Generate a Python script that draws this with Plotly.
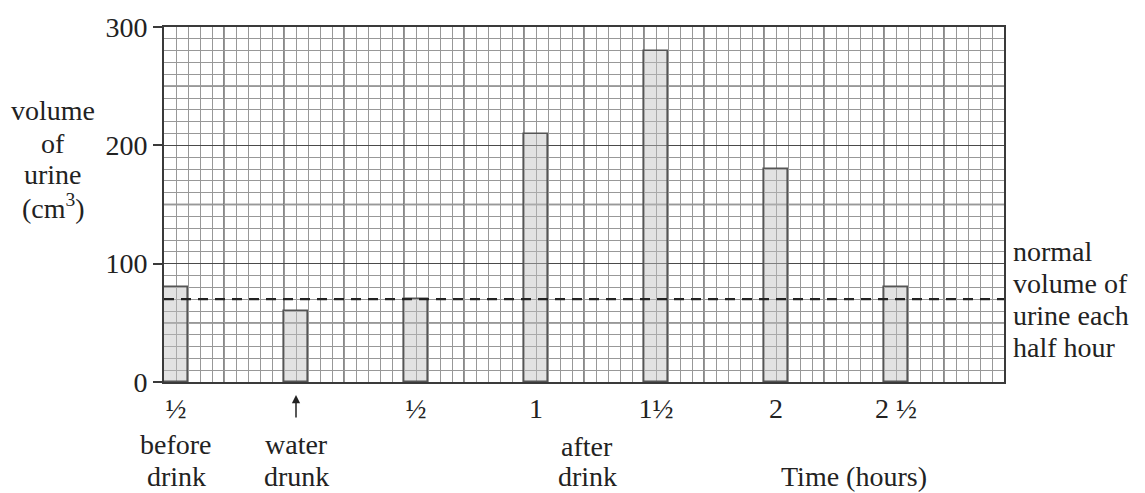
import plotly.graph_objects as go

# Half-hour collection periods and the urine volume measured in each
time_labels = ["½", "", "½", "1", "1½", "2", "2 ½"]
urine_volume = [80, 60, 70, 210, 280, 180, 80]
normal_volume = 70
y_tick_values = [0, 100, 200, 300]

SERIF = "Liberation Serif, Times New Roman, serif"
INK = "#222222"
MAJOR = "#4a4a4a"
MINOR = "#989898"
FS = 28

# plot-area geometry in page pixels (used to place the free text)
L, R, T, B = 164, 1004, 24, 382


def px(xp):
    return (xp - L) / (R - L)


def py(yp):
    return (B - yp) / (B - T)


n_cols = 14
bar_x = [2 * i + 0.2 for i in range(len(urine_volume))]
label_x = [x for x, s in zip(bar_x, time_labels) if s]
label_text = [s for s in time_labels if s]

fig = go.Figure()
fig.add_trace(go.Bar(
    x=bar_x, y=urine_volume, width=0.4,
    marker=dict(color="rgba(190,190,190,0.45)",
                line=dict(color="#555555", width=1.6)),
    showlegend=False, hoverinfo="skip",
))
fig.add_trace(go.Scatter(
    x=[0, n_cols], y=[normal_volume, normal_volume], mode="lines",
    line=dict(color=INK, width=2.2, dash="10px,7px"),
    showlegend=False, hoverinfo="skip",
))

shapes = []
# heavy vertical rulings every whole column
for c in range(1, n_cols):
    shapes.append(dict(type="line", xref="x", yref="y", x0=c, x1=c, y0=0, y1=300,
                       line=dict(color=MAJOR, width=1.3), layer="below"))
# heavy horizontal rulings between the labelled values
for v in range(50, 300, 100):
    shapes.append(dict(type="line", xref="x", yref="y", x0=0, x1=n_cols, y0=v, y1=v,
                       line=dict(color=MAJOR, width=1.3), layer="below"))

annotations = []


def text_lines(lines, x, y_centres, xanchor="center", xref="x"):
    for s, yc in zip(lines, y_centres):
        annotations.append(dict(
            text=s, x=x, y=py(yc), xref=xref, yref="paper",
            xanchor=xanchor, yanchor="middle", showarrow=False,
            font=dict(family=SERIF, size=FS, color=INK),
        ))


text_lines(["volume", "of", "urine", "(cm<sup>3</sup>)"], px(53), [108, 141, 173, 205], xref="paper")
text_lines(["before", "drink"], bar_x[0], [445, 477])
text_lines(["water", "drunk"], bar_x[1], [445, 477])
text_lines(["after", "drink"], 7.05, [447, 477])
text_lines(["Time (hours)"], 11.5, [477])
text_lines(["normal", "volume of", "urine each", "half hour"], px(1011),
           [250, 283, 315, 347], xanchor="left", xref="paper")

# arrow marking when the water was drunk
annotations.append(dict(
    x=bar_x[1], y=py(395), xref="x", yref="paper", text="",
    showarrow=True, arrowhead=2, arrowsize=1.1, arrowwidth=1.5, arrowcolor=INK,
    ax=0, ay=24,
))

fig.update_layout(
    width=1145, height=493, autosize=False,
    margin=dict(l=L, r=1145 - R, t=T, b=493 - B),
    paper_bgcolor="white", plot_bgcolor="white",
    bargap=0, barmode="overlay",
    shapes=shapes, annotations=annotations,
    xaxis=dict(
        range=[0, n_cols], tickvals=label_x, ticktext=label_text,
        showgrid=False, zeroline=False, ticks="",
        tickfont=dict(family=SERIF, size=FS, color=INK),
        showline=True, mirror=True, linecolor="#3a3a3a", linewidth=2,
        minor=dict(dtick=0.2, tick0=0, showgrid=True, gridcolor=MINOR, gridwidth=1.2),
        fixedrange=True,
    ),
    yaxis=dict(
        range=[0, 300], tickvals=y_tick_values,
        showgrid=True, gridcolor=MAJOR, gridwidth=1.3, zeroline=False,
        ticks="outside", ticklen=9, tickwidth=1.5, tickcolor="#3a3a3a",
        tickfont=dict(family=SERIF, size=FS, color=INK),
        showline=True, mirror=True, linecolor="#3a3a3a", linewidth=2,
        minor=dict(dtick=10, tick0=0, showgrid=True, gridcolor=MINOR, gridwidth=1.2),
        fixedrange=True,
    ),
)

fig.write_html("out.html")
